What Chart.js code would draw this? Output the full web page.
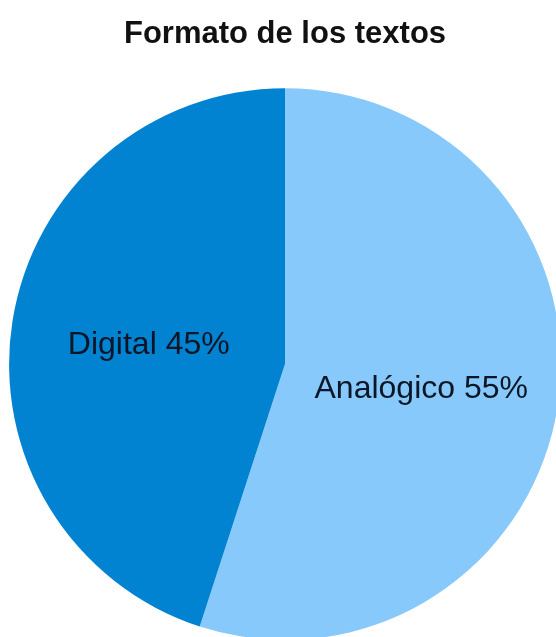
<!DOCTYPE html>
<html>
<head>
<meta charset="utf-8">
<script src="https://cdn.jsdelivr.net/npm/chart.js@4/dist/chart.umd.min.js"></script>
<style>
    html, body { margin: 0; padding: 0; background: #fff; overflow: hidden; }
    #wrap { position: absolute; left: 0; top: 0; }
</style>
</head>
<body>
<div id="wrap"><canvas id="pie" width="570" height="660"></canvas></div>
<script>
const title = 'Formato de los textos';
const categories = ['Analógico', 'Digital'];
const percents = [55, 45];
const colors = ['#87C9FA', '#0283D1'];

// writes "Name NN%" at the middle of each slice
const sliceLabels = {
    id: 'sliceLabels',
    afterDatasetsDraw(chart) {
        const ctx = chart.ctx;
        const meta = chart.getDatasetMeta(0);
        ctx.save();
        ctx.font = '32px "Liberation Sans", Arial, sans-serif';
        ctx.fillStyle = '#0c1626';
        ctx.textAlign = 'center';
        ctx.textBaseline = 'middle';
        meta.data.forEach((arc, i) => {
            const pos = arc.tooltipPosition();
            ctx.fillText(`${categories[i]} ${percents[i]}%`, pos.x, pos.y + 3);
        });
        ctx.restore();
    }
};

const ctx = document.getElementById('pie').getContext('2d');
new Chart(ctx, {
    type: 'pie',
    data: {
        labels: categories,
        datasets: [{
            data: percents,
            backgroundColor: colors,
            borderWidth: 0
        }]
    },
    options: {
        responsive: false,
        animation: false,
        layout: {
            padding: { left: 9, right: 9, top: 0, bottom: 20 }
        },
        plugins: {
            legend: { display: false },
            tooltip: { enabled: false },
            title: {
                display: true,
                text: title,
                color: '#111',
                font: { family: '"Liberation Sans", Arial, sans-serif', size: 31, weight: 'bold' },
                padding: { top: 16, bottom: 35 }
            }
        }
    },
    plugins: [sliceLabels]
});
</script>
</body>
</html>
